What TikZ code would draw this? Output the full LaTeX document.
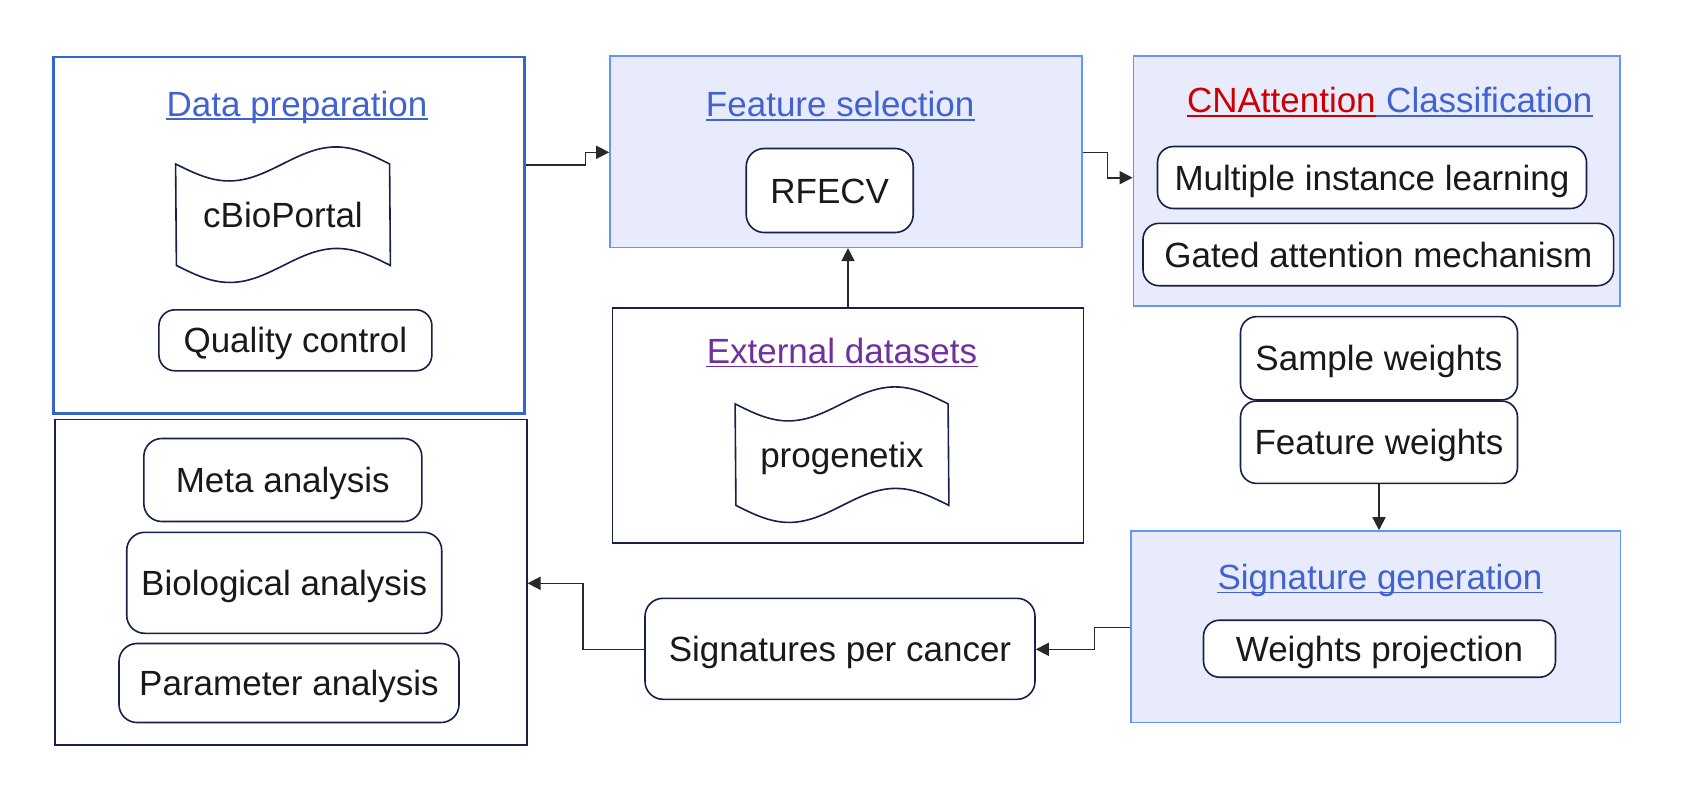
\documentclass[tikz,border=0pt]{standalone}
\usepackage{fontspec}
\setmainfont{Liberation Sans}
\usetikzlibrary{arrows.meta}
\definecolor{titleblue}{RGB}{66,99,207}
\definecolor{dpborder}{RGB}{52,101,200}
\definecolor{panelfill}{RGB}{232,235,252}
\definecolor{panelborder}{RGB}{100,150,250}
\definecolor{boxborder}{RGB}{22,32,72}
\definecolor{linegray}{RGB}{40,40,40}
\definecolor{txt}{RGB}{25,25,25}
\definecolor{cnared}{RGB}{204,0,0}
\definecolor{extpurple}{RGB}{112,48,160}
\begin{document}
\begin{tikzpicture}[x=0.5pt,y=-0.5pt,
  every node/.style={font=\fontsize{17.5pt}{21pt}\selectfont, text=txt},
  panel/.style={draw=panelborder, fill=panelfill, line width=0.8pt, inner sep=0pt},
  plainbox/.style={draw=boxborder, line width=0.8pt, fill=white, inner sep=0pt},
  rbox/.style={draw=boxborder, line width=0.8pt, fill=white, rounded corners=8pt, inner sep=0pt, text height=12.5pt, text depth=0pt, align=center},
  tapebox/.style={inner sep=0pt, text height=12.5pt, text depth=0pt},
  tapeline/.style={draw=boxborder, line width=0.8pt},
  ttl/.style={anchor=base, inner sep=0pt, text=titleblue},
  uline/.style={line width=0.8pt},
  conn/.style={draw=linegray, line width=0.8pt, -{Triangle[length=6.5pt,width=6.5pt]}},
]
\fill[white] (0,0) rectangle (1690,798);
\useasboundingbox (0,0) rectangle (1690,798);

% ---- Data preparation ----
\node[draw=dpborder, line width=1.2pt, inner sep=0pt, minimum width=235.5pt, minimum height=178.3pt] (dp) at (289,235) {};
\node[ttl] (dpt) at (297,116) {Data preparation};
\draw[uline, titleblue] ([yshift=-1.5pt]dpt.base west) -- ([yshift=-1.5pt]dpt.base east);
\node[tapebox, minimum width=107pt, minimum height=50.35pt] (cbio) at (283,214.7) {cBioPortal};
\draw[tapeline] (cbio.north west) sin ++(53.5,17) cos ++(53.5,-17) sin ++(53.5,-17) cos ++(53.5,17)
  -- (cbio.south east) sin ++(-53.5,-17) cos ++(-53.5,17) sin ++(-53.5,17) cos ++(-53.5,-17) -- cycle;
\node[rbox, minimum width=136.5pt, minimum height=30.5pt] (qc) at (295.4,340.3) {Quality control};

% ---- Feature selection ----
\node[panel, minimum width=235.85pt, minimum height=95.65pt] (fs) at (845.85,151.65) {};
\node[ttl] (fst) at (840.2,116.7) {Feature selection};
\draw[uline, titleblue] ([yshift=-1.5pt]fst.base west) -- ([yshift=-1.5pt]fst.base east);
\node[rbox, rounded corners=9pt, minimum width=83.5pt, minimum height=42pt] (rfecv) at (829.7,190.5) {RFECV};

% ---- External datasets ----
\node[plainbox, minimum width=235.65pt, minimum height=117.65pt] (ext) at (848,425.6) {};
\node[ttl, text=extpurple] (extt) at (842,363.3) {External datasets};
\draw[uline, extpurple] ([yshift=-1.5pt]extt.base west) -- ([yshift=-1.5pt]extt.base east);
\node[tapebox, minimum width=106.5pt, minimum height=50.35pt] (prog) at (842,454.65) {progenetix};
\draw[tapeline] (prog.north west) sin ++(53.25,17) cos ++(53.25,-17) sin ++(53.25,-17) cos ++(53.25,17)
  -- (prog.south east) sin ++(-53.25,-17) cos ++(-53.25,17) sin ++(-53.25,17) cos ++(-53.25,-17) -- cycle;

% ---- CNAttention Classification ----
\node[panel, minimum width=243.3pt, minimum height=124.85pt] (cna) at (1376.7,180.85) {};
\node[ttl, anchor=base west, text=cnared] (cnat1) at (1186.6,112.7) {CNAttention};
\node[ttl, anchor=base west] (cnat2) at ([xshift=4.86pt]cnat1.base east) {Classification};
\draw[uline, cnared] ([yshift=-1.5pt]cnat1.base west) -- ([yshift=-1.5pt]cnat1.base east);
\draw[uline, titleblue] ([yshift=-1.5pt]cnat1.base east) -- ([yshift=-1.5pt]cnat2.base east);
\node[rbox, minimum width=214.5pt, minimum height=31pt] (mil) at (1372,177.5) {Multiple instance learning};
\node[rbox, minimum width=235.3pt, minimum height=31.2pt] (gam) at (1378.3,254.5) {Gated attention mechanism};

% ---- weights ----
\node[rbox, minimum width=138.5pt, minimum height=41.65pt] (sw) at (1379,358.3) {Sample weights};
\node[rbox, minimum width=138.5pt, minimum height=41.2pt] (fw) at (1379,442.2) {Feature weights};

% ---- Signature generation ----
\node[panel, minimum width=244.8pt, minimum height=95.65pt] (sg) at (1375.8,626.65) {};
\node[ttl] (sgt) at (1380,589.3) {Signature generation};
\draw[uline, titleblue] ([yshift=-1.5pt]sgt.base west) -- ([yshift=-1.5pt]sgt.base east);
\node[rbox, minimum width=176pt, minimum height=28.5pt] (wp) at (1379.5,648.7) {Weights projection};

% ---- Signatures per cancer ----
\node[rbox, rounded corners=9pt, minimum width=195pt, minimum height=50.5pt] (spc) at (840,648.8) {Signatures per cancer};

% ---- Analyses ----
\node[plainbox, minimum width=235.85pt, minimum height=162.85pt] (an) at (290.85,582.15) {};
\node[rbox, rounded corners=9pt, minimum width=139pt, minimum height=41.5pt] (meta) at (282.8,480) {Meta analysis};
\node[rbox, rounded corners=9pt, minimum width=157.5pt, minimum height=50.5pt] (bio) at (284.2,582.8) {Biological analysis};
\node[rbox, rounded corners=9pt, minimum width=170pt, minimum height=39.5pt] (par) at (289,683) {Parameter analysis};

% ---- connectors ----
\coordinate (j1) at (585.3,165);
\coordinate (j2) at (585.3,152.3);
\draw[conn] (dp.east |- j1) -- (j1) -- (j2) -- (fs.west |- j2);

\coordinate (k1) at (1107.3,152.3);
\coordinate (k2) at (1107.3,177.7);
\draw[conn] (fs.east |- k1) -- (k1) -- (k2) -- (cna.west |- k2);

\draw[conn] (ext.north) -- (ext.north |- fs.south);
\draw[conn] (fw.south) -- (fw.south |- sg.north);

\coordinate (m1) at (1094.3,627.3);
\coordinate (m2) at (1094.3,649.3);
\draw[conn] (sg.west |- m1) -- (m1) -- (m2) -- (spc.east |- m2);

\coordinate (n1) at (582.7,649.3);
\coordinate (n2) at (582.7,583.3);
\draw[conn] (spc.west |- n1) -- (n1) -- (n2) -- (an.east |- n2);
\end{tikzpicture}
\end{document}
